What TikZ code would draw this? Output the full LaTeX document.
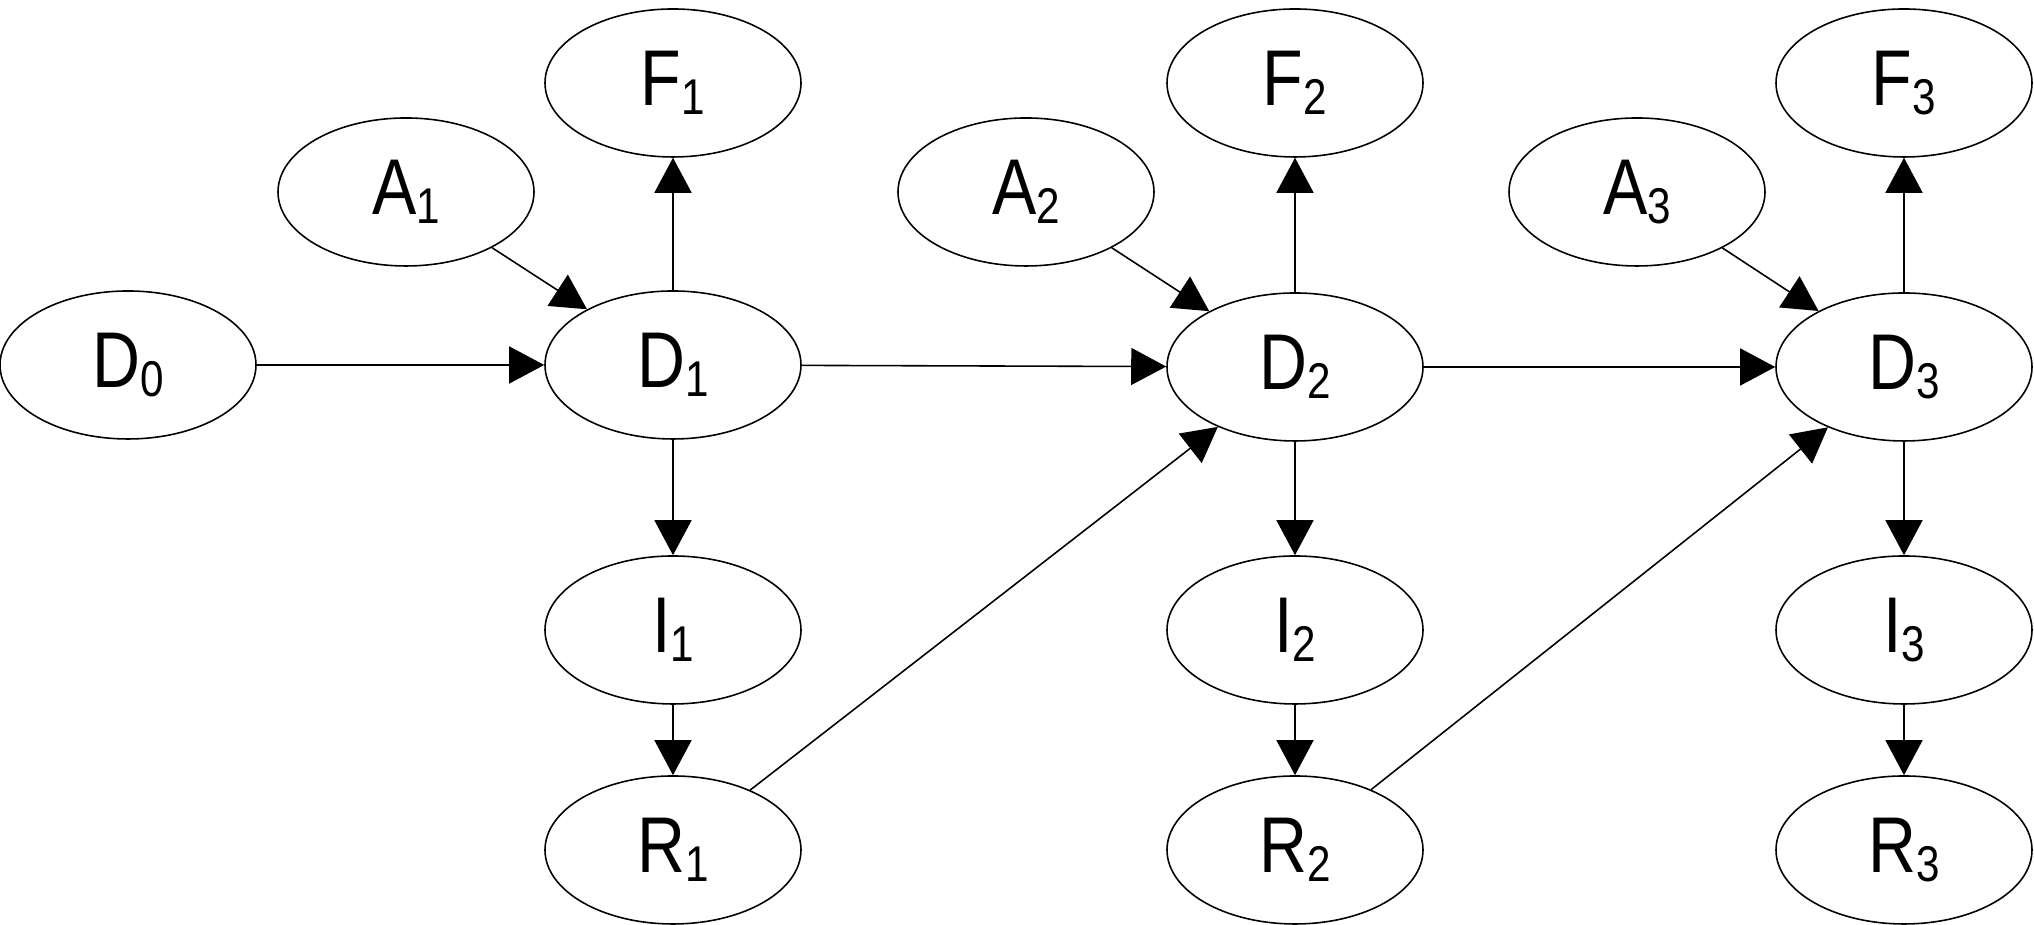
\documentclass[tikz,border=0pt]{standalone}
\usepackage{fontspec}
\setmainfont{Liberation Sans}
\usepackage{tikz}
\usetikzlibrary{shapes.geometric, arrows.meta}

\newcommand{\lowidx}[1]{\raisebox{-2.7pt}{\fontsize{14.3pt}{14.3pt}\selectfont #1}}
\newcommand{\statelbl}[2]{\scalebox{0.84}[1]{#1\lowidx{#2}}}

\tikzset{
    state/.style={draw, ellipse, line width=0.45pt, minimum width=2.56cm, minimum height=1.48cm,
        inner sep=0pt, font=\fontsize{22.5pt}{22.5pt}\selectfont},
    link/.style={line width=0.45pt, -{Triangle[length=0.35cm, width=0.37cm]}}
}

\begin{document}
\begin{tikzpicture}
        \useasboundingbox (0, 0) rectangle (20.34, 9.25);

        \node[state] (D0) at (1.28, 5.60) {\statelbl{D}{0}};

        \node[state] (A1) at (4.06, 7.33) {\statelbl{A}{1}};
        \node[state] (F1) at (6.73, 8.42) {\statelbl{F}{1}};
        \node[state] (D1) at (6.73, 5.60) {\statelbl{D}{1}};
        \node[state] (I1) at (6.73, 2.95) {\statelbl{I}{1}};
        \node[state] (R1) at (6.73, 0.75) {\statelbl{R}{1}};

        \node[state] (A2) at (10.26, 7.33) {\statelbl{A}{2}};
        \node[state] (F2) at (12.95, 8.42) {\statelbl{F}{2}};
        \node[state] (D2) at (12.95, 5.58) {\statelbl{D}{2}};
        \node[state] (I2) at (12.95, 2.95) {\statelbl{I}{2}};
        \node[state] (R2) at (12.95, 0.75) {\statelbl{R}{2}};

        \node[state] (A3) at (16.37, 7.33) {\statelbl{A}{3}};
        \node[state] (F3) at (19.04, 8.42) {\statelbl{F}{3}};
        \node[state] (D3) at (19.04, 5.58) {\statelbl{D}{3}};
        \node[state] (I3) at (19.04, 2.95) {\statelbl{I}{3}};
        \node[state] (R3) at (19.04, 0.75) {\statelbl{R}{3}};

        \draw[link] (D0) -- (D1);
        \draw[link] (A1) -- (D1);
        \draw[link] (D1) -- (F1);
        \draw[link] (D1) -- (I1);
        \draw[link] (I1) -- (R1);

        \draw[link] (D1) -- (D2);
        \draw[link] (R1) -- (D2);
        \draw[link] (A2) -- (D2);
        \draw[link] (D2) -- (F2);
        \draw[link] (D2) -- (I2);
        \draw[link] (I2) -- (R2);

        \draw[link] (D2) -- (D3);
        \draw[link] (R2) -- (D3);
        \draw[link] (A3) -- (D3);
        \draw[link] (D3) -- (F3);
        \draw[link] (D3) -- (I3);
        \draw[link] (I3) -- (R3);
        \end{tikzpicture}
\end{document}
